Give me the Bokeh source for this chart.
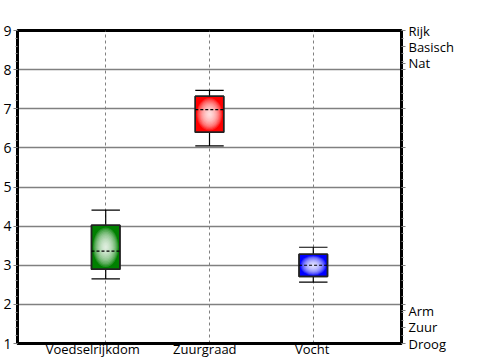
from bokeh.plotting import figure
from bokeh.models import FixedTicker, Range1d, LinearAxis, ColumnDataSource
from bokeh.embed import file_html
from bokeh.resources import INLINE

categories = ["Voedselrijkdom", "Zuurgraad", "Vocht"]
colors = ["#008000", "#ff0000", "#0000ff"]
whisker_low = [2.65, 6.05, 2.57]
q1 = [2.90, 6.40, 2.71]
median = [3.36, 6.98, 3.00]
q3 = [4.02, 7.32, 3.28]
whisker_high = [4.41, 7.47, 3.46]

right_labels_top = ["Rijk", "Basisch", "Nat"]
right_labels_bottom = ["Arm", "Zuur", "Droog"]
right_pos_top = [9.0, 8.58, 8.16]
right_pos_bottom = [1.84, 1.42, 1.0]

FONT = "Open Sans"
BW = 0.137
# horizontal offsets of the category labels (layout only)
label_shift = [-0.125, -0.045, -0.01]

xs = [i + 1 for i in range(len(categories))]
src = ColumnDataSource(dict(
    x=xs, left=[x - BW for x in xs], right=[x + BW for x in xs],
    lo=whisker_low, q1=q1, med=median, q3=q3, hi=whisker_high, color=colors,
    cx=xs, cy=[(a + b) / 2 for a, b in zip(q1, q3)],
))

p = figure(width=500, height=360, output_backend="svg", toolbar_location=None,
           x_range=Range1d(0.15, 3.85), y_range=Range1d(1, 9),
           min_border_left=0, min_border_right=0, min_border_top=30, min_border_bottom=0,
           y_axis_location="left")
p.background_fill_color = "white"
p.border_fill_color = "white"
p.outline_line_color = "black"
p.outline_line_width = 3

# x axis
label_x = [x + s for x, s in zip(xs, label_shift)]
p.xaxis.ticker = FixedTicker(ticks=label_x)
p.xaxis.major_label_overrides = {x: c for x, c in zip(label_x, categories)}
p.xaxis.major_tick_out = 0
p.xaxis.major_tick_in = 0
p.xaxis.minor_tick_out = 0
p.xaxis.major_label_standoff = -4
p.xaxis.axis_line_width = 3
p.xaxis.axis_line_color = "black"
p.xaxis.major_label_text_font = FONT
p.xaxis.major_label_text_font_size = "13px"
p.xaxis.major_label_text_color = "black"

# y axis
p.yaxis.ticker = FixedTicker(ticks=list(range(1, 10)),
                             minor_ticks=[1 + 0.2 * i for i in range(41)])
p.yaxis.axis_line_width = 3
p.yaxis.axis_line_color = "black"
p.yaxis.major_tick_out = 4
p.yaxis.major_tick_in = 0
p.yaxis.major_tick_line_color = "#808080"
p.yaxis.minor_tick_out = 2
p.yaxis.minor_tick_in = 0
p.yaxis.minor_tick_line_color = "#808080"
p.yaxis.major_label_standoff = 2
p.yaxis.major_label_text_font = FONT
p.yaxis.major_label_text_font_size = "14px"
p.yaxis.major_label_text_color = "black"

# right axis
rticks = list(range(1, 10)) + right_pos_top[1:] + right_pos_bottom[:-1]
overrides = {t: "" for t in range(1, 10)}
for t, l in zip(right_pos_top + right_pos_bottom, right_labels_top + right_labels_bottom):
    overrides[t] = l
rax = LinearAxis(ticker=FixedTicker(ticks=rticks,
                                    minor_ticks=[1 + 0.2 * i for i in range(41)]),
                 major_label_overrides=overrides)
rax.axis_line_width = 3
rax.axis_line_color = "black"
rax.major_tick_out = 4
rax.major_tick_in = 0
rax.major_tick_line_color = "#808080"
rax.minor_tick_out = 2
rax.minor_tick_in = 0
rax.minor_tick_line_color = "#808080"
rax.major_label_standoff = 3
rax.major_label_text_font = FONT
rax.major_label_text_font_size = "13px"
rax.major_label_text_color = "black"
p.add_layout(rax, "right")
p.min_border_right = 99

# grids
p.ygrid.ticker = FixedTicker(ticks=list(range(1, 10)))
p.ygrid.grid_line_color = "#808080"
p.ygrid.grid_line_width = 1.5
p.xgrid.ticker = FixedTicker(ticks=xs)
p.xgrid.grid_line_color = "#808080"
p.xgrid.grid_line_dash = "3 3"
p.xgrid.grid_line_width = 1

# whiskers
p.segment(x0="x", y0="q3", x1="x", y1="hi", source=src, line_color="black", line_width=1.2)
p.segment(x0="x", y0="lo", x1="x", y1="q1", source=src, line_color="black", line_width=1.2)
p.segment(x0="left", y0="hi", x1="right", y1="hi", source=src, line_color="black", line_width=1.2)
p.segment(x0="left", y0="lo", x1="right", y1="lo", source=src, line_color="black", line_width=1.2)

# boxes
p.quad(left="left", right="right", bottom="q1", top="q3", source=src,
       fill_color="color", line_color="#222222", line_width=1.5)
# radial highlight approximation
n = 14
for k in range(n, 0, -1):
    f = k / n
    src.data["bh%d" % k] = [(b - a) * 0.9 * f for a, b in zip(q1, q3)]
    p.ellipse(x="cx", y="cy", width=2 * BW * 0.9 * f, height="bh%d" % k,
              source=src, fill_color="white", fill_alpha=0.14, line_color=None)
p.quad(left="left", right="right", bottom="q1", top="q3", source=src,
       fill_color=None, line_color="#222222", line_width=1.5)
# median
p.segment(x0="left", y0="med", x1="right", y1="med", source=src,
          line_color="black", line_width=1.2, line_dash="3 2")

open("out.html", "w").write(file_html(p, INLINE))
